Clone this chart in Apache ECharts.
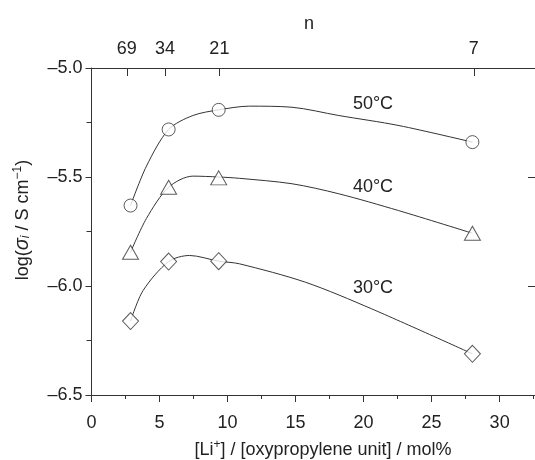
<!DOCTYPE html>
<html>
<head>
<meta charset="utf-8">
<script src="https://cdn.jsdelivr.net/npm/echarts@6/dist/echarts.min.js"></script>
<style>
  html, body { margin: 0; padding: 0; background: #fff; }
  #chart { width: 535px; height: 460px; }
</style>
</head>
<body>
<div id="chart"></div>
<script>
// measured points, x = [Li+]/[oxypropylene unit] mol%
const pointX = [2.87, 5.67, 9.35, 28.0];
const log50 = [-5.631, -5.282, -5.192, -5.340];
const log40 = [-5.845, -5.547, -5.504, -5.758];
const log30 = [-6.161, -5.888, -5.886, -6.311];

// fitted curves
const fit50X = [2.87, 4.04, 5.67, 7.45, 9.35, 11.6, 14.74, 18.18, 22.6, 28.0];
const fit50Y = [-5.631, -5.45, -5.282, -5.218, -5.192, -5.175, -5.180, -5.218, -5.264, -5.340];
const fit40X = [2.87, 4.04, 5.67, 7.45, 9.35, 10.86, 14.74, 18.18, 22.57, 28.0];
const fit40Y = [-5.845, -5.69, -5.547, -5.496, -5.500, -5.506, -5.531, -5.577, -5.654, -5.758];
const fit30X = [2.87, 3.79, 5.67, 7.21, 9.35, 10.86, 15.74, 20.6, 28.0];
const fit30Y = [-6.161, -6.021, -5.888, -5.860, -5.886, -5.898, -5.983, -6.105, -6.311];

// top axis: n (oxypropylene units per Li)
const nTickPos = [2.6, 5.4, 9.4, 28.1];
const nLabels = ['69', '34', '21', '7'];

const FONT = '"Liberation Sans", Arial, sans-serif';
const INK = '#333';
const TXT = '#222';

const chart = echarts.init(document.getElementById('chart'));

function pairs(xs, ys) {
  return xs.map((x, i) => [x, ys[i]]);
}

function fitSeries(xs, ys) {
  return {
    type: 'line',
    data: pairs(xs, ys),
    smooth: 0.3,
    showSymbol: false,
    silent: true,
    z: 2,
    lineStyle: { color: INK, width: 1 },
  };
}

function pointSeries(ys, symbol, size) {
  return {
    type: 'scatter',
    data: pairs(pointX, ys),
    symbol: symbol,
    symbolSize: size,
    z: 5,
    itemStyle: { color: '#fff', borderColor: INK, borderWidth: 1 },
  };
}

const axisTextStyle = { color: TXT, fontSize: 18, fontFamily: FONT };
const X_MAX = 32.6;

chart.setOption({
  animation: false,
  grid: { left: 91.5, top: 68, width: 445.5, height: 327, containLabel: false },
  xAxis: [
    {
      type: 'value', position: 'bottom', min: 0, max: X_MAX, interval: 5,
      axisLine: { lineStyle: { color: INK, width: 1 } },
      axisTick: { inside: false, length: 7, lineStyle: { color: INK } },
      axisLabel: Object.assign({ margin: 19, showMaxLabel: false }, axisTextStyle),
      splitLine: { show: false },
    },
    {
      type: 'value', position: 'bottom', min: 0, max: X_MAX, interval: 2.5,
      axisLine: { show: false },
      axisTick: { inside: false, length: 4, lineStyle: { color: INK } },
      axisLabel: { show: false },
      splitLine: { show: false },
    },
    {
      type: 'value', position: 'top', min: 0, max: X_MAX,
      axisLine: { show: true, onZero: false, lineStyle: { color: INK, width: 1 } },
      axisTick: { inside: true, length: 8, customValues: nTickPos, lineStyle: { color: INK } },
      axisLabel: Object.assign({
        margin: 10,
        customValues: nTickPos,
        formatter: function (v) {
          const i = nTickPos.findIndex(p => Math.abs(p - v) < 1e-6);
          return i >= 0 ? nLabels[i] : '';
        },
      }, axisTextStyle),
      splitLine: { show: false },
    },
  ],
  yAxis: [
    {
      type: 'value', position: 'left', min: -6.5, max: -5.0, interval: 0.5,
      axisLine: { show: true, onZero: false, lineStyle: { color: INK, width: 1 } },
      axisTick: { show: true, inside: false, length: 6, lineStyle: { color: INK } },
      axisLabel: Object.assign({
        margin: 9,
        formatter: v => (v < 0 ? '\u2013' : '') + Math.abs(v).toFixed(1),
      }, axisTextStyle),
      splitLine: { show: false },
    },
    {
      type: 'value', position: 'left', min: -6.5, max: -5.0, interval: 0.25,
      axisLine: { show: false },
      axisTick: { show: true, inside: false, length: 4, lineStyle: { color: INK } },
      axisLabel: { show: false },
      splitLine: { show: false },
    },
    {
      type: 'value', position: 'right', min: -6.5, max: -5.0, interval: 0.5,
      axisLine: { show: true, onZero: false, lineStyle: { color: INK, width: 1 } },
      axisTick: { show: true, inside: true, length: 7, lineStyle: { color: INK } },
      axisLabel: { show: false },
      splitLine: { show: false },
    },
    {
      type: 'value', position: 'right', min: -6.5, max: -5.0, interval: 0.25,
      axisLine: { show: false },
      axisTick: { show: true, inside: true, length: 5, lineStyle: { color: INK } },
      axisLabel: { show: false },
      splitLine: { show: false },
    },
  ],
  series: [
    fitSeries(fit50X, fit50Y),
    fitSeries(fit40X, fit40Y),
    fitSeries(fit30X, fit30Y),
    pointSeries(log50, 'circle', 13),
    pointSeries(log40, 'triangle', [16, 14]),
    pointSeries(log30, 'diamond', [16, 17]),
  ],
  graphic: [
    {
      type: 'text', x: 309, y: 24,
      style: { text: 'n', fill: TXT, fontSize: 18, fontFamily: FONT, align: 'center', verticalAlign: 'middle' },
    },
    {
      type: 'text', x: 323, y: 449,
      style: {
        text: '{a|[Li}{sup|+}{a|] / [oxypropylene unit] / mol%}',
        align: 'center', verticalAlign: 'middle',
        rich: {
          a: { fill: TXT, fontSize: 18, fontFamily: FONT, lineHeight: 20, verticalAlign: 'bottom' },
          sup: { fill: TXT, fontSize: 12, fontFamily: FONT, lineHeight: 12, verticalAlign: 'top' },
        },
      },
    },
    {
      type: 'text', x: 22, y: 220, rotation: Math.PI / 2,
      style: {
        text: '{a|log(}{s|\u03c3}{sub|i}{a| / S cm}{sup|\u22121}{a|)}',
        align: 'center', verticalAlign: 'middle',
        rich: {
          a: { fill: TXT, fontSize: 18, fontFamily: FONT, lineHeight: 20, verticalAlign: 'bottom' },
          s: { fill: TXT, fontSize: 20, fontFamily: FONT, fontStyle: 'italic', lineHeight: 20, verticalAlign: 'bottom' },
          sub: { fill: TXT, fontSize: 12, fontFamily: FONT, fontStyle: 'italic', lineHeight: 10, verticalAlign: 'bottom' },
          sup: { fill: TXT, fontSize: 12, fontFamily: FONT, lineHeight: 12, verticalAlign: 'top' },
        },
      },
    },
    {
      type: 'text', x: 373, y: 104,
      style: { text: '50\u00b0C', fill: TXT, fontSize: 18, fontFamily: FONT, align: 'center', verticalAlign: 'middle' },
    },
    {
      type: 'text', x: 373, y: 187,
      style: { text: '40\u00b0C', fill: TXT, fontSize: 18, fontFamily: FONT, align: 'center', verticalAlign: 'middle' },
    },
    {
      type: 'text', x: 373, y: 288,
      style: { text: '30\u00b0C', fill: TXT, fontSize: 18, fontFamily: FONT, align: 'center', verticalAlign: 'middle' },
    },
  ],
});
</script>
</body>
</html>
